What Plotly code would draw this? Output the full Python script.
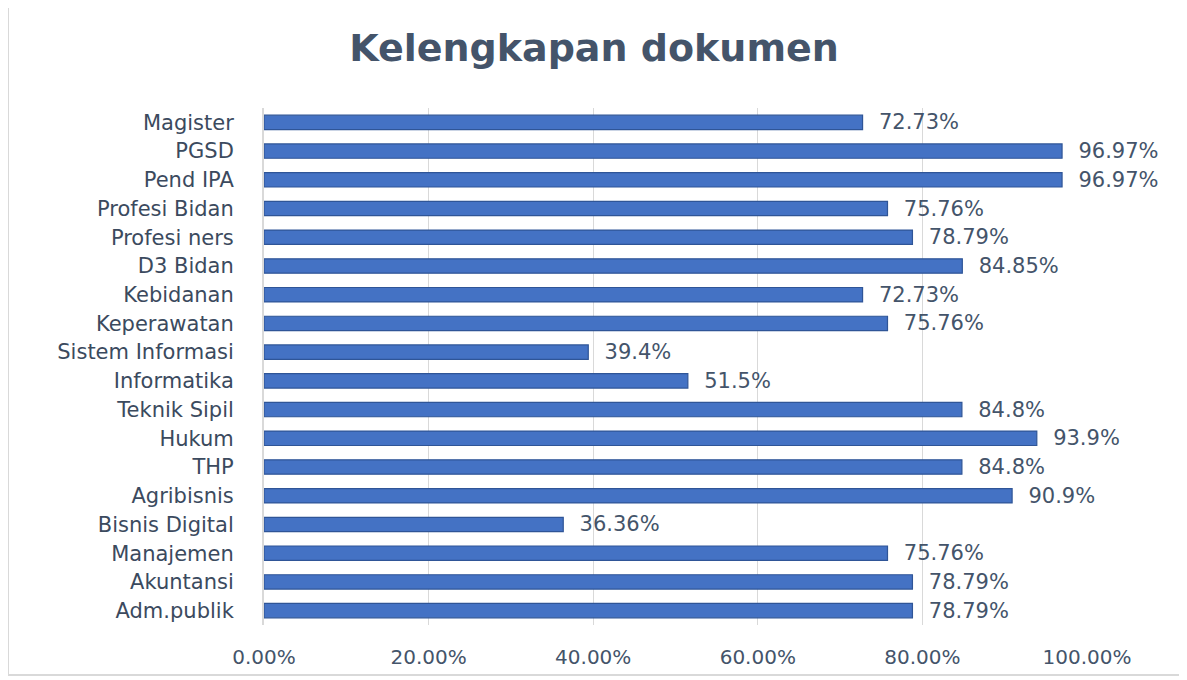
import plotly.graph_objects as go

categories = ["Magister", "PGSD", "Pend IPA", "Profesi Bidan", "Profesi ners", "D3 Bidan",
              "Kebidanan", "Keperawatan", "Sistem Informasi", "Informatika", "Teknik Sipil",
              "Hukum", "THP", "Agribisnis", "Bisnis Digital", "Manajemen", "Akuntansi", "Adm.publik"]
values = [0.7273, 0.9697, 0.9697, 0.7576, 0.7879, 0.8485, 0.7273, 0.7576, 0.394, 0.515,
          0.848, 0.939, 0.848, 0.909, 0.3636, 0.7576, 0.7879, 0.7879]
value_labels = ["72.73%", "96.97%", "96.97%", "75.76%", "78.79%", "84.85%", "72.73%", "75.76%",
                "39.4%", "51.5%", "84.8%", "93.9%", "84.8%", "90.9%", "36.36%", "75.76%",
                "78.79%", "78.79%"]
tick_vals = [0, 0.2, 0.4, 0.6, 0.8, 1.0]
tick_text = ["0.00%", "20.00%", "40.00%", "60.00%", "80.00%", "100.00%"]

txt = "#44546A"
font = "DejaVu Sans"

fig = go.Figure()
fig.add_trace(go.Bar(
    y=categories, x=values, orientation="h",
    text=value_labels, texttemplate="\u00a0\u00a0%{text}",
    textposition="outside", cliponaxis=False, constraintext="none",
    textfont=dict(family=font, size=21, color=txt),
    marker=dict(color="#4472C4", line=dict(color="#2F5597", width=1.2)),
    width=0.5,
))

W, H = 1187, 680
off = 8  # page body offset
ml, mr, mt, mb = 264 - off, 100 + off, 108 - off, 55 + off
pw, ph = W - ml - mr, H - mt - mb

fig.update_layout(
    width=W, height=H,
    margin=dict(l=ml, r=mr, t=mt, b=mb),
    paper_bgcolor="white", plot_bgcolor="white",
    showlegend=False,
    title=dict(text="<b>Kelengkapan dokumen</b>", x=(594 - off) / W, xanchor="center",
               y=1 - (48 - off) / H, yanchor="middle",
               font=dict(family=font, size=38, color=txt)),
    xaxis=dict(range=[0, 1.0], tickvals=tick_vals, ticktext=tick_text,
               showgrid=True, gridcolor="#D9D9D9", gridwidth=1, zeroline=False,
               showline=False, tickfont=dict(family=font, size=20, color=txt),
               ticklabelstandoff=18, fixedrange=True),
    yaxis=dict(autorange="reversed", showgrid=False, showline=True, linecolor="#D9D9D9",
               linewidth=2,
               tickfont=dict(family=font, size=21, color="#3B4A5E"), ticklabelstandoff=24,
               fixedrange=True),
)

# outer chart border
fig.add_shape(type="rect", xref="paper", yref="paper",
              x0=(8 - off - ml) / pw, x1=(1180 - off - ml) / pw,
              y0=1 - (675 - off - mt) / ph, y1=1 - (7 - off - mt) / ph,
              line=dict(color="#D9D9D9", width=2), fillcolor="rgba(0,0,0,0)", layer="below")

fig.write_html("out.html")
